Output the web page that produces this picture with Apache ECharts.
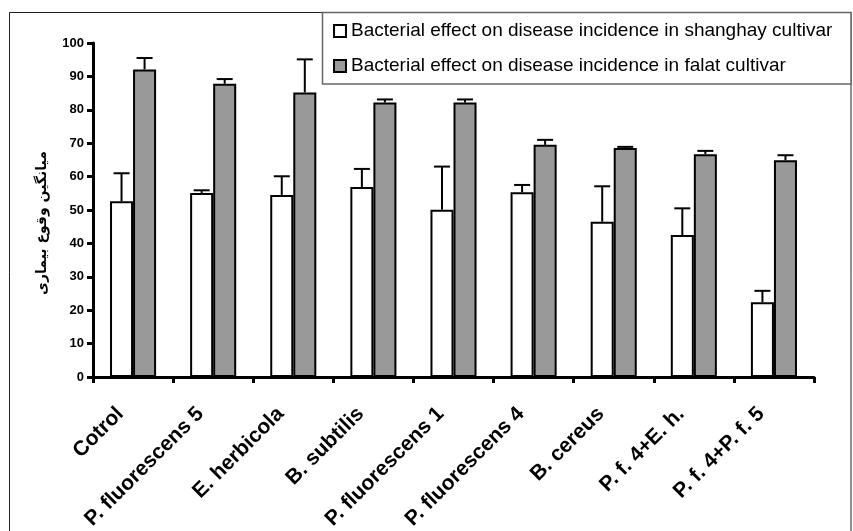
<!DOCTYPE html>
<html>
<head>
<meta charset="utf-8">
<script src="https://cdn.jsdelivr.net/npm/echarts@6/dist/echarts.min.js"></script>
<style>
html,body{margin:0;padding:0;background:#fff;}
#chart{width:853px;height:531px;}
</style>
</head>
<body>
<div id="chart"></div>
<script>
const categories = ['Cotrol', 'P. fluorescens 5', 'E. herbicola', 'B. subtilis', 'P. fluorescens 1', 'P. fluorescens 4', 'B. cereus', 'P. f. 4+E. h.', 'P. f. 4+P. f. 5'];
const shanghayValues = [52.6, 55.1, 54.5, 56.9, 50.1, 55.3, 46.5, 42.5, 22.4];
const shanghayErrors = [8.4, 0.8, 5.6, 5.4, 12.9, 2.2, 10.6, 8.0, 3.4];
const falatValues = [92.1, 87.8, 85.2, 82.2, 82.2, 69.5, 68.6, 66.7, 64.9];
const falatErrors = [3.4, 1.4, 9.9, 0.9, 0.9, 1.5, 0.3, 1.0, 1.5];
const seriesNames = ['Bacterial effect on disease incidence in shanghay cultivar', 'Bacterial effect on disease incidence in falat cultivar'];
const yAxisTitle = 'میانگین وقوع بیماری';

const chart = echarts.init(document.getElementById('chart'), null, {renderer: 'canvas'});
const BAR_FRAC = 0.14375;

function errData(vals, errs) {
  return vals.map((v, i) => [i, v, errs[i]]);
}
function makeErrRender(sign) {
  return function (params, api) {
    const idx = api.value(0), v = api.value(1), e = api.value(2);
    const band = api.size([1, 0])[0];
    const off = sign * band * BAR_FRAC;
    const base = api.coord([idx, v]);
    const top = api.coord([idx, v + e]);
    const x = base[0] + off;
    const st = {stroke: '#000', lineWidth: 2};
    return {
      type: 'group',
      children: [
        {type: 'line', shape: {x1: x, y1: base[1], x2: x, y2: top[1]}, style: st},
        {type: 'line', shape: {x1: x - 8, y1: top[1], x2: x + 8, y2: top[1]}, style: st}
      ]
    };
  };
}

const option = {
  backgroundColor: '#fff',
  animation: false,
  graphic: [
    {type: 'rect', shape: {x: 9.5, y: 12.5, width: 841.5, height: 540}, style: {fill: 'none', stroke: '#222', lineWidth: 1}, z: 0},
    {type: 'rect', shape: {x: 322.5, y: 12.5, width: 528.5, height: 71.5}, style: {fill: '#fff', stroke: '#666', lineWidth: 1.5}, z: 1}
  ],
  legend: {
    data: seriesNames,
    orient: 'vertical',
    left: 333,
    top: 20,
    padding: 0,
    itemWidth: 12,
    itemHeight: 12,
    itemGap: 13,
    icon: 'rect',
    itemStyle: {borderColor: '#000', borderWidth: 2},
    textStyle: {fontFamily: 'Liberation Sans, Arial, sans-serif', fontSize: 19, color: '#000', lineHeight: 22},
    z: 5
  },
  grid: {left: 93, right: 39, top: 43, bottom: 154, containLabel: false, outerBoundsMode: 'none'},
  xAxis: {
    type: 'category',
    data: categories,
    axisLine: {lineStyle: {color: '#000', width: 3}},
    axisTick: {show: true, length: 6, lineStyle: {color: '#000', width: 3}},
    axisLabel: {
      interval: 0,
      rotate: 45,
      margin: 21,
      padding: [0, 18, 0, 0],
      fontFamily: 'Liberation Sans, Arial, sans-serif',
      fontWeight: 'bold',
      fontSize: 21,
      color: '#000',
      hideOverlap: false
    }
  },
  yAxis: {
    type: 'value',
    min: 0,
    max: 100,
    interval: 10,
    name: yAxisTitle,
    nameLocation: 'middle',
    nameGap: 44,
    nameRotate: 90,
    nameTextStyle: {fontFamily: 'DejaVu Sans, Noto Sans, sans-serif', fontWeight: 'bold', fontSize: 14, color: '#000', padding: [0, 26, 0, 0]},
    axisLine: {show: true, lineStyle: {color: '#000', width: 3}},
    axisTick: {show: true, length: 6, lineStyle: {color: '#000', width: 3}},
    splitLine: {show: false},
    axisLabel: {fontFamily: 'Liberation Sans, Arial, sans-serif', fontWeight: 'bold', fontSize: 13, color: '#000', margin: 9}
  },
  series: [
    {
      name: seriesNames[0],
      type: 'bar',
      data: shanghayValues,
      barWidth: '28.75%',
      barGap: '0%',
      itemStyle: {color: '#ffffff', borderColor: '#000', borderWidth: 2},
      z: 2
    },
    {
      name: seriesNames[1],
      type: 'bar',
      data: falatValues,
      barWidth: '28.75%',
      barGap: '0%',
      itemStyle: {color: '#999999', borderColor: '#000', borderWidth: 2},
      z: 2
    },
    {
      type: 'custom',
      name: 'err1',
      data: errData(shanghayValues, shanghayErrors),
      encode: {x: 0, y: 1},
      renderItem: makeErrRender(-1),
      z: 3
    },
    {
      type: 'custom',
      name: 'err2',
      data: errData(falatValues, falatErrors),
      encode: {x: 0, y: 1},
      renderItem: makeErrRender(1),
      z: 3
    }
  ]
};
chart.setOption(option);
</script>
</body>
</html>
